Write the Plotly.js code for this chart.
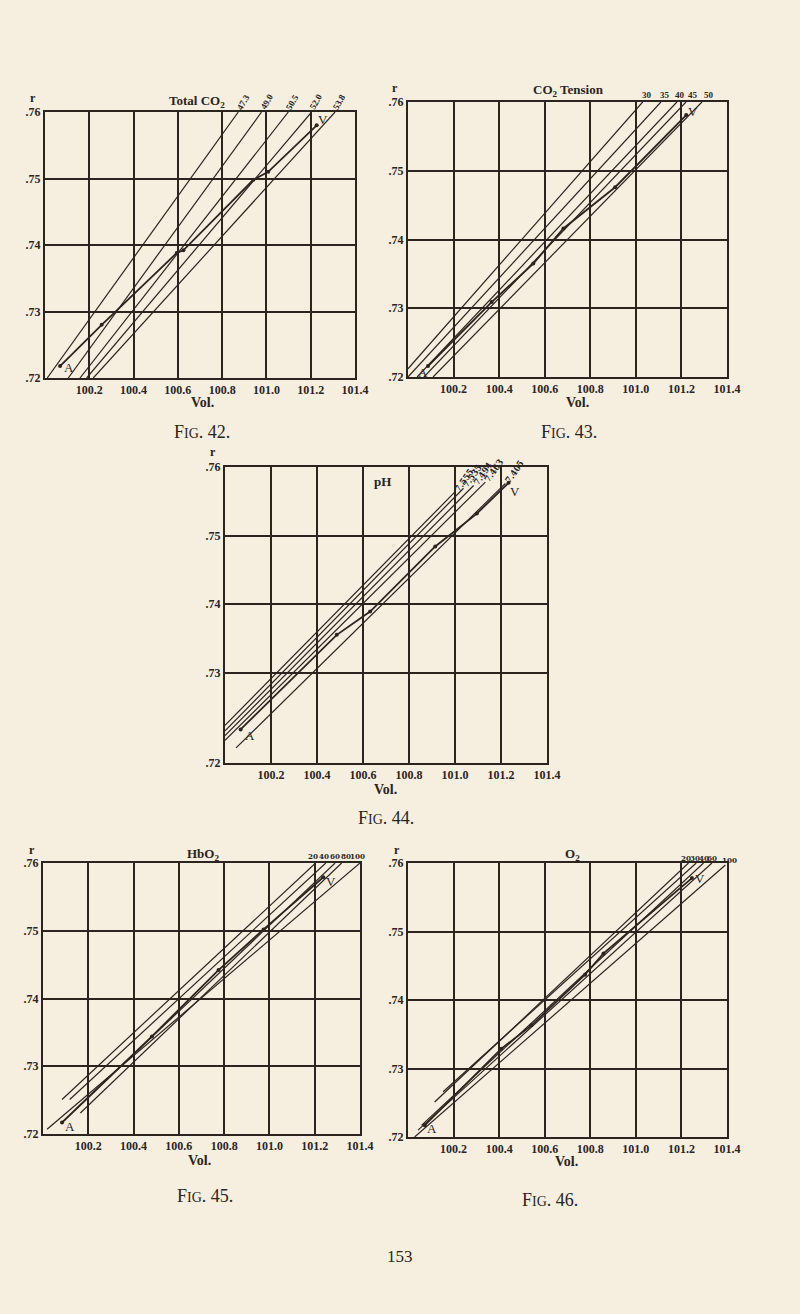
<!DOCTYPE html>
<html><head><meta charset="utf-8">
<script src="https://cdn.plot.ly/plotly-3.0.1.min.js"></script>
<style>html,body{margin:0;padding:0;background:#f6efe0;}#chart{width:800px;height:1314px;}</style>
</head><body><div id="chart"></div>
<script>
// ---------- shared tick values ----------
const volTicks = [100.2, 100.4, 100.6, 100.8, 101.0, 101.2, 101.4];
const volTickText = ['100.2', '100.4', '100.6', '100.8', '101.0', '101.2', '101.4'];
const rTicks = [0.72, 0.73, 0.74, 0.75, 0.76];
const rTickText = ['.72', '.73', '.74', '.75', '.76'];
const f44RTicks = [0.7168, 0.73, 0.74, 0.75, 0.76];   // bottom row of Fig. 44 is drawn taller

// ---------- Fig. 42  Total CO2 ----------
const f42Labels = ['47.3', '49.0', '50.5', '52.0', '53.8'];
const f42X0 = [100.010, 100.105, 100.158, 100.188, 100.218];
const f42Y0 = [0.72, 0.72, 0.72, 0.72, 0.72];
const f42X1 = [100.873, 100.978, 101.099, 101.204, 101.310];
const f42Y1 = [0.76, 0.76, 0.76, 0.76, 0.76];
const f42AvX = [100.068, 100.256, 100.595, 100.625, 100.941, 101.008, 101.227];
const f42AvY = [0.7218, 0.7280, 0.7388, 0.7392, 0.7498, 0.7510, 0.7580];

// ---------- Fig. 43  CO2 tension ----------
const f43Labels = ['30', '35', '40', '45', '50'];
const f43X0 = [100.00, 100.00, 100.04, 100.07, 100.11];
const f43Y0 = [0.7212, 0.7200, 0.72, 0.72, 0.72];
const f43X1 = [101.03, 101.11, 101.18, 101.22, 101.29];
const f43Y1 = [0.76, 0.76, 0.76, 0.76, 0.76];
const f43AvX = [100.088, 100.367, 100.550, 100.682, 100.909, 101.221];
const f43AvY = [0.7216, 0.7309, 0.7365, 0.7416, 0.7476, 0.7581];

// ---------- Fig. 44  pH ----------
const f44Labels = ['7.555', '7.535', '7.494', '7.463', '7.405'];
const f44X0 = [100.000, 100.000, 100.000, 100.000, 100.048];
const f44Y0 = [0.7223, 0.7215, 0.7208, 0.7201, 0.7190];
const f44X1 = [101.001, 101.037, 101.081, 101.132, 101.219];
const f44Y1 = [0.7564, 0.7569, 0.7573, 0.7578, 0.7576];
const f44AvX = [100.068, 100.486, 100.631, 100.914, 101.095, 101.233];
const f44AvY = [0.7217, 0.7355, 0.7389, 0.7484, 0.7532, 0.7577];

// ---------- Fig. 45  HbO2 ----------
const f45Labels = ['20', '40', '60', '80', '100'];
const f45X0 = [100.084, 100.118, 100.143, 100.165, 100.018];
const f45Y0 = [0.7251, 0.7251, 0.7236, 0.7231, 0.7207];
const f45X1 = [101.204, 101.249, 101.290, 101.319, 101.400];
const f45Y1 = [0.76, 0.76, 0.76, 0.76, 0.76];
const f45AvX = [100.084, 100.481, 100.775, 100.974, 101.238];
const f45AvY = [0.7217, 0.7344, 0.7442, 0.7502, 0.7579];

// ---------- Fig. 46  O2 ----------
const f46Labels = ['20', '30', '40', '60', '100'];
const f46X0 = [100.117, 100.154, 100.059, 100.044, 100.029];
const f46Y0 = [0.7251, 0.7266, 0.7217, 0.7210, 0.7200];
const f46X1 = [101.231, 101.265, 101.297, 101.334, 101.393];
const f46Y1 = [0.76, 0.76, 0.76, 0.76, 0.7597];
const f46AvX = [100.073, 100.410, 100.542, 100.777, 100.858, 101.246];
const f46AvY = [0.7217, 0.7329, 0.7363, 0.7437, 0.7468, 0.7578];

// ---------- styling / layout helpers ----------
const INK = '#2b241f';
const PAPER = '#f6efe0';
const W = 800, H = 1314;
const SERIF = 'Liberation Serif, DejaVu Serif, serif';
const COND = 'DejaVu Serif Condensed, Liberation Serif, serif';
const capText = n => 'F<span style="font-size:14px">IG</span>. ' + n + '.';

const figs = [
  {s: '',  box: [45, 112, 355, 378], title: 'Total CO<sub>2</sub>', titleXY: [197, 101],
   L: f42Labels, X0: f42X0, Y0: f42Y0, X1: f42X1, Y1: f42Y1, AX: f42AvX, AY: f42AvY,
   yt: rTicks, yr: [0.72, 0.76], lab: {angle: -60, dx: [5, 5, 4, 4, 4], dy: -10, size: 9, fam: SERIF},
   A: [9, 1], V: [6, -6], vol: [202, 402], cap: capText(42), capXY: [202, 432], r: [33, 98]},
  {s: '2', box: [408, 102, 727, 377], title: 'CO<sub>2</sub> Tension', titleXY: [568, 91],
   L: f43Labels, X0: f43X0, Y0: f43Y0, X1: f43X1, Y1: f43Y1, AX: f43AvX, AY: f43AvY,
   yt: rTicks, yr: [0.72, 0.76], lab: {angle: 0, dx: [4, 4, 3, 7, 7], dy: -7, size: 9, fam: SERIF},
   A: [-5, 7], V: [7, -4], vol: [577, 402], cap: capText(43), capXY: [569, 432], r: [395, 88]},
  {s: '3', box: [225, 467, 547, 763], title: 'pH', titleXY: [382, 481],
   L: f44Labels, X0: f44X0, Y0: f44Y0, X1: f44X1, Y1: f44Y1, AX: f44AvX, AY: f44AvY,
   yt: f44RTicks, yr: [0.7168, 0.76], lab: {angle: -55, dx: [9, 9, 9, 9, 10], dy: -12, size: 9, fam: COND},
   A: [9, 6], V: [6, 9], vol: [385, 789], cap: capText(44), capXY: [386, 818], r: [213, 452]},
  {s: '4', box: [43, 863, 360, 1134], title: 'HbO<sub>2</sub>', titleXY: [203, 854],
   L: f45Labels, X0: f45X0, Y0: f45Y0, X1: f45X1, Y1: f45Y1, AX: f45AvX, AY: f45AvY,
   yt: rTicks, yr: [0.72, 0.76], lab: {angle: 0, dx: [-3, -2, 0, 4, -3], dy: -7, size: 8, fam: COND},
   A: [8, 4], V: [8, 4], vol: [199, 1160], cap: capText(45), capXY: [205, 1196], r: [32, 850]},
  {s: '5', box: [408, 863, 727, 1137], title: 'O<sub>2</sub>', titleXY: [572, 854],
   L: f46Labels, X0: f46X0, Y0: f46Y0, X1: f46X1, Y1: f46Y1, AX: f46AvX, AY: f46AvY,
   yt: rTicks, yr: [0.72, 0.76], lab: {angle: 0, dx: [-2, -1, 0, 0, 4], dy: -5, size: 8, fam: COND},
   A: [7, 3], V: [8, 0], vol: [566, 1161], cap: capText(46), capXY: [550, 1200], r: [397, 850]}
];

const traces = [];
const annotations = [];
const layout = {
  width: W, height: H, margin: {l: 0, r: 0, t: 0, b: 0},
  paper_bgcolor: PAPER, plot_bgcolor: PAPER, showlegend: false,
  font: {family: SERIF, color: INK}, annotations: annotations
};
const tickFont = {family: SERIF, size: 12, color: INK, weight: 'bold'};
const paperNote = (px, py, text, font) => ({xref: 'paper', yref: 'paper', x: px / W, y: 1 - py / H,
  xanchor: 'center', yanchor: 'middle', text: text, showarrow: false, font: font});

figs.forEach(f => {
  const xa = 'x' + f.s, ya = 'y' + f.s;
  const [x0, y0, x1, y1] = f.box;
  layout['xaxis' + f.s] = {
    domain: [x0 / W, x1 / W], anchor: ya, range: [100, 101.4], fixedrange: true,
    tickvals: volTicks, ticktext: volTickText, tickfont: tickFont, ticks: '',
    showgrid: true, gridcolor: INK, gridwidth: 2, zeroline: false,
    showline: true, linecolor: INK, linewidth: 2, mirror: true
  };
  layout['yaxis' + f.s] = {
    domain: [1 - y1 / H, 1 - y0 / H], anchor: xa, range: f.yr, fixedrange: true,
    tickvals: f.yt, ticktext: rTickText, tickfont: tickFont, ticks: '',
    showgrid: true, gridcolor: INK, gridwidth: 2, zeroline: false,
    showline: true, linecolor: INK, linewidth: 2, mirror: true
  };
  // parameter lines
  f.L.forEach((lab, i) => {
    traces.push({type: 'scatter', mode: 'lines', xaxis: xa, yaxis: ya,
      x: [f.X0[i], f.X1[i]], y: [f.Y0[i], f.Y1[i]],
      line: {color: INK, width: 1.2}, hoverinfo: 'skip'});
    annotations.push({xref: xa, yref: ya, x: f.X1[i], y: f.Y1[i], text: lab,
      xanchor: 'center', yanchor: 'middle',
      showarrow: false, textangle: f.lab.angle, xshift: f.lab.dx[i], yshift: -f.lab.dy,
      font: {family: f.lab.fam, size: f.lab.size, color: INK, weight: 'bold'}});
  });
  // A -> V observed course
  traces.push({type: 'scatter', mode: 'lines+markers', xaxis: xa, yaxis: ya,
    x: f.AX, y: f.AY, line: {color: INK, width: 1.8},
    marker: {color: INK, size: 4}, hoverinfo: 'skip'});
  const n = f.AX.length - 1;
  annotations.push({xref: xa, yref: ya, x: f.AX[0], y: f.AY[0], text: 'A', showarrow: false,
    xanchor: 'center', yanchor: 'middle',
    xshift: f.A[0], yshift: -f.A[1], font: {family: SERIF, size: 13, color: INK}});
  annotations.push({xref: xa, yref: ya, x: f.AX[n], y: f.AY[n], text: 'V', showarrow: false,
    xanchor: 'center', yanchor: 'middle',
    xshift: f.V[0], yshift: -f.V[1], font: {family: SERIF, size: 13, color: INK}});
  // titles, axis words, caption
  annotations.push(paperNote(f.titleXY[0], f.titleXY[1], f.title, {family: SERIF, size: 13, color: INK, weight: 'bold'}));
  annotations.push(paperNote(f.r[0], f.r[1], 'r', {family: SERIF, size: 12, color: INK, weight: 'bold'}));
  annotations.push(paperNote(f.vol[0], f.vol[1], 'Vol.', {family: SERIF, size: 14, color: INK, weight: 'bold'}));
  annotations.push(paperNote(f.capXY[0], f.capXY[1], f.cap, {family: SERIF, size: 18, color: INK}));
});
annotations.push(paperNote(400, 1256, '153', {family: SERIF, size: 17, color: INK}));

Plotly.newPlot('chart', traces, layout, {staticPlot: true});
</script></body></html>
